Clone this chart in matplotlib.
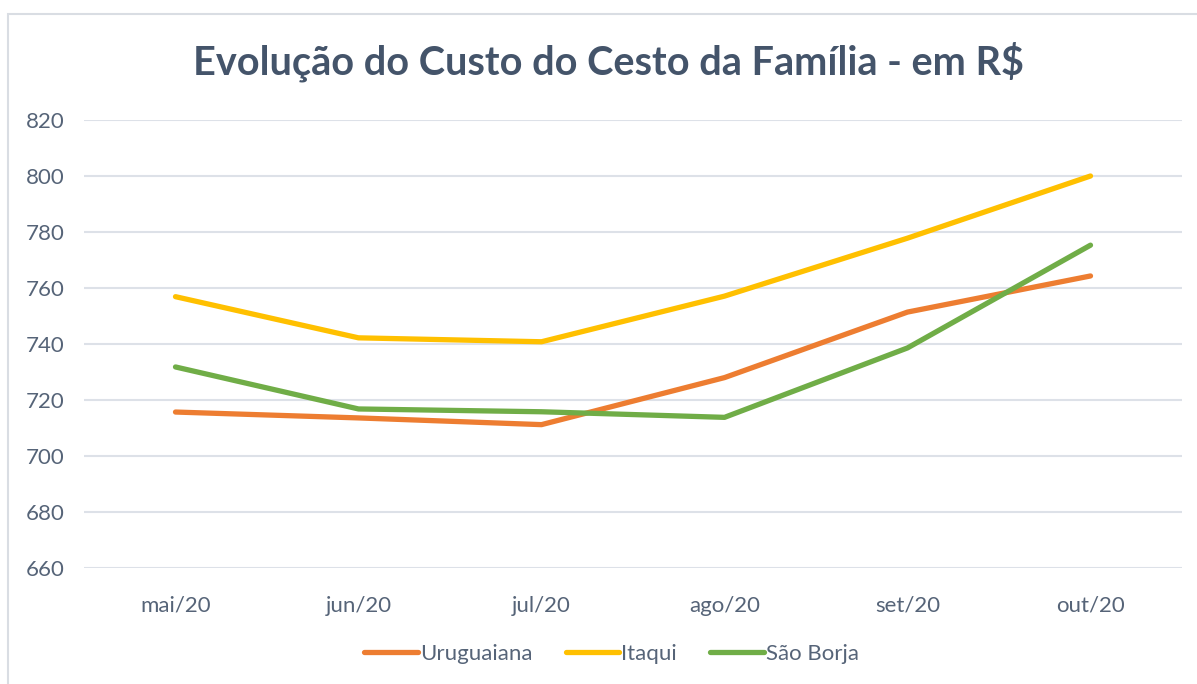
import matplotlib
matplotlib.use('Agg')
import matplotlib.pyplot as plt
from matplotlib.patches import Rectangle

# dados
meses = ['mai/20', 'jun/20', 'jul/20', 'ago/20', 'set/20', 'out/20']
uruguaiana = [715.7, 713.6, 711.2, 728.0, 751.4, 764.3]
itaqui = [756.9, 742.2, 740.8, 757.1, 777.8, 800.0]
sao_borja = [731.8, 716.8, 715.8, 713.8, 738.6, 775.3]

cor_texto = '#566478'
plt.rcParams['font.family'] = ['Lato', 'DejaVu Sans']

fig = plt.figure(figsize=(11.97, 6.84), dpi=100)
# moldura do gráfico
fig.patches.append(Rectangle((8/1197, -0.01), 1.01, 1 - 14/684 + 0.01,
                             transform=fig.transFigure, fill=False,
                             edgecolor='#D9DDE3', linewidth=1.5))

ax = fig.add_axes([84/1197, 1 - 568/684, 1098/1197, 448/684])
x = range(len(meses))
ax.plot(x, uruguaiana, color='#ED7D31', lw=3.8, label='Uruguaiana', solid_capstyle='round')
ax.plot(x, itaqui, color='#FFC000', lw=3.8, label='Itaqui', solid_capstyle='round')
ax.plot(x, sao_borja, color='#70AD47', lw=3.8, label='São Borja', solid_capstyle='round')

ax.set_xlim(-0.5, 5.5)
ax.set_ylim(660, 820)
ax.set_yticks(range(660, 821, 20))
ax.set_xticks(list(x))
ax.set_xticklabels(meses)
ax.grid(axis='y', color='#DDE1E8', lw=1.5)
ax.set_axisbelow(True)
for s in ax.spines.values():
    s.set_visible(False)
ax.tick_params(length=0, labelsize=16, colors=cor_texto, pad=14)
ax.tick_params(axis='x', pad=20)

fig.text(0.508, 1 - 62/684, 'Evolução do Custo do Cesto da Família - em R$',
         ha='center', va='center', fontsize=28.5, fontweight='bold', color='#44546A')

leg = fig.legend(loc='center', bbox_to_anchor=(0.511, 1 - 654/684), ncol=3, frameon=False,
                 fontsize=16, handlelength=2.4, handletextpad=0.1, columnspacing=1.5)
for t in leg.get_texts():
    t.set_color(cor_texto)

plt.savefig('out.png', dpi=100)
